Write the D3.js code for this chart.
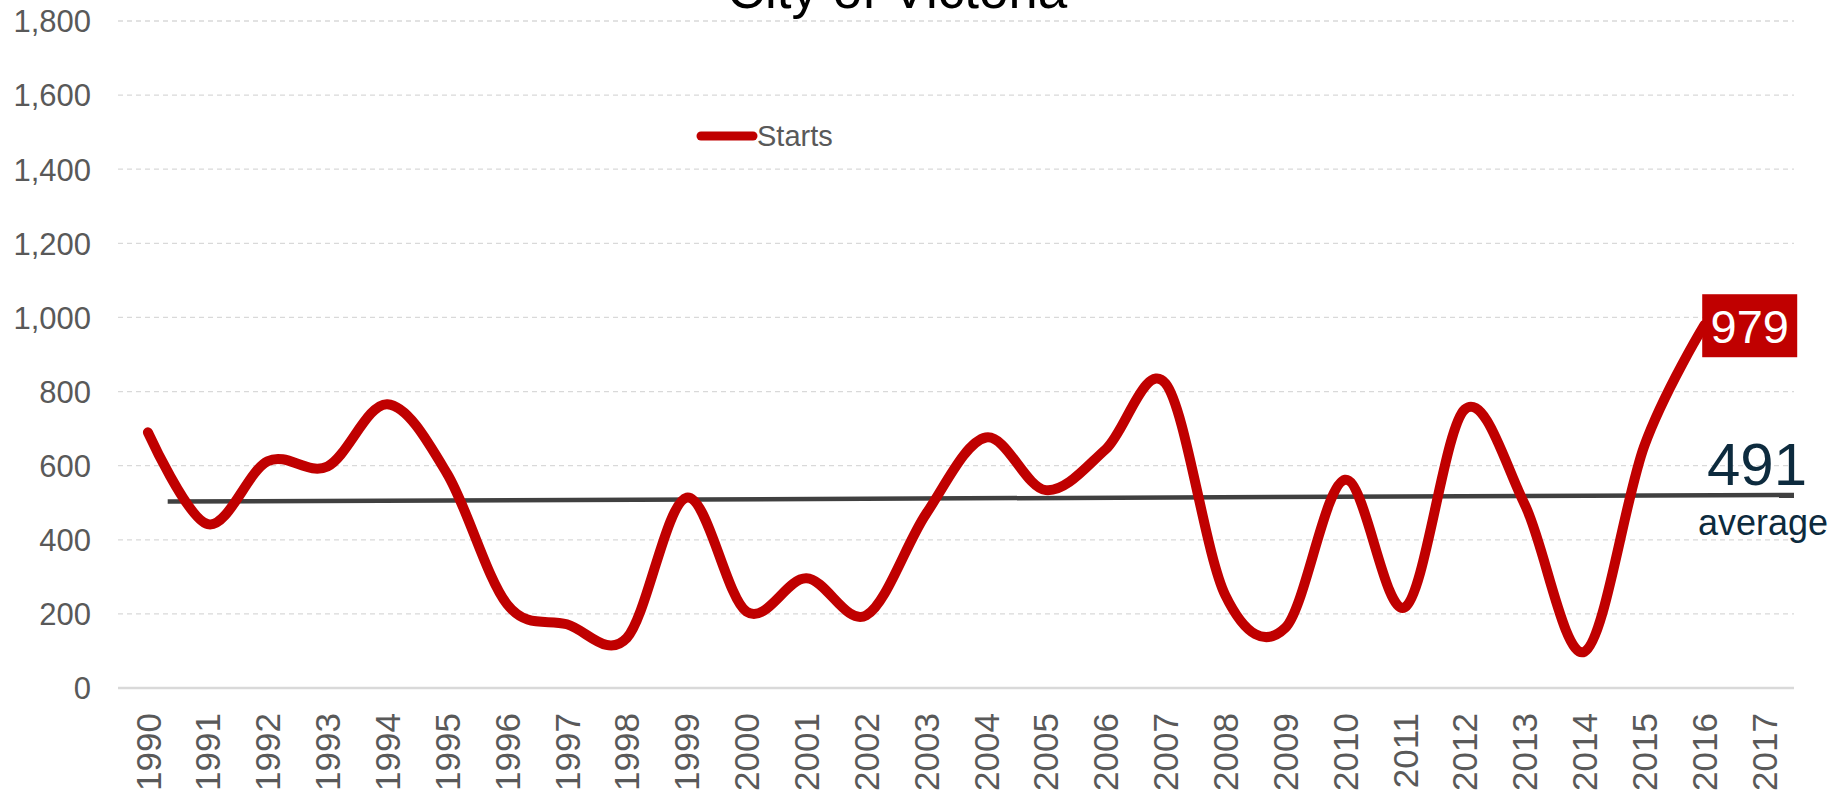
<!DOCTYPE html>
<html>
<head>
<meta charset="utf-8">
<script src="https://cdn.jsdelivr.net/npm/d3@7"></script>
<style>
  html, body { margin: 0; padding: 0; background: #fff; }
  svg { display: block; font-family: "Liberation Sans", Arial, sans-serif; }
</style>
</head>
<body>
<div id="chart"></div>
<script>
// housing starts, City of Victoria
const years = d3.range(1990, 2018);
const starts = [690, 442, 612, 598, 766, 578, 226, 172, 135, 514, 206, 296, 196, 470, 676,
                534, 644, 822, 250, 162, 562, 218, 752, 496, 98, 654, 979, null];
const yTicks = [0, 200, 400, 600, 800, 1000, 1200, 1400, 1600, 1800];
const averageValue = 491;
// linear trend drawn across the chart (start / end)
const trendYears = [1990.33, 2017.5];
const trendValues = [503, 521];

const width = 1839, height = 798;
const plotLeft = 118, plotRight = 1794, plotTop = 21, plotBottom = 688;

const svg = d3.select("#chart").append("svg")
    .attr("width", width)
    .attr("height", height);

const x = d3.scaleLinear()
    .domain([1989.5, 2017.5])
    .range([plotLeft, plotRight]);

const y = d3.scaleLinear()
    .domain([0, 1800])
    .range([plotBottom, plotTop]);

// gridlines
svg.append("g")
    .selectAll("line")
    .data(yTicks.filter(d => d > 0))
    .join("line")
    .attr("x1", plotLeft)
    .attr("x2", plotRight)
    .attr("y1", d => y(d))
    .attr("y2", d => y(d))
    .attr("stroke", "#d9d9d9")
    .attr("stroke-width", 1.3)
    .attr("stroke-dasharray", "5,4");

// zero axis
svg.append("line")
    .attr("x1", plotLeft).attr("x2", plotRight)
    .attr("y1", y(0)).attr("y2", y(0))
    .attr("stroke", "#d9d9d9")
    .attr("stroke-width", 2.6);

// y labels
const yAxis = d3.axisLeft(y)
    .tickValues(yTicks)
    .tickFormat(d3.format(","))
    .tickSize(0)
    .tickPadding(0);

const yG = svg.append("g")
    .attr("transform", "translate(91,0)")
    .call(yAxis);
yG.select(".domain").remove();
yG.selectAll("text")
    .attr("fill", "#595959")
    .style("font-size", "31px")
    .attr("x", 0)
    .attr("dy", "0.35em");

// x labels
svg.append("g")
    .selectAll("text")
    .data(years)
    .join("text")
    .attr("transform", d => "translate(" + x(d) + ",713) rotate(-90)")
    .attr("text-anchor", "end")
    .attr("dy", "0.36em")
    .attr("fill", "#595959")
    .style("font-size", "35px")
    .text(d => d);

// title (mostly clipped above the chart)
svg.append("text")
    .attr("x", 897)
    .attr("y", 8)
    .attr("text-anchor", "middle")
    .attr("fill", "#000")
    .style("font-size", "53px")
    .text("City of Victoria");

// trend / average line
svg.append("line")
    .attr("x1", x(trendYears[0]))
    .attr("x2", x(trendYears[1]))
    .attr("y1", y(trendValues[0]))
    .attr("y2", y(trendValues[1]))
    .attr("stroke", "#404040")
    .attr("stroke-width", 4.5);

// starts line
const points = years.map((yr, i) => ({year: yr, value: starts[i]}))
    .filter(d => d.value != null);

const line = d3.line()
    .x(d => x(d.year))
    .y(d => y(d.value))
    .curve(d3.curveCardinal.tension(0));

svg.append("path")
    .datum(points)
    .attr("d", line)
    .attr("fill", "none")
    .attr("stroke", "#c00000")
    .attr("stroke-width", 10)
    .attr("stroke-linecap", "round")
    .attr("stroke-linejoin", "round");

// last value label
const last = points[points.length - 1];
const lx = x(last.year) - 2, ly = y(last.value);
svg.append("rect")
    .attr("x", lx)
    .attr("y", ly - 31)
    .attr("width", 95)
    .attr("height", 63)
    .attr("fill", "#c00000");
svg.append("text")
    .attr("x", lx + 47.5)
    .attr("y", ly + 18)
    .attr("text-anchor", "middle")
    .attr("fill", "#fff")
    .style("font-size", "47px")
    .text(d3.format(",")(last.value));

// average label
svg.append("text")
    .attr("x", 1807)
    .attr("y", 485)
    .attr("text-anchor", "end")
    .attr("fill", "#0d2b3e")
    .style("font-size", "60px")
    .text(averageValue);
svg.append("text")
    .attr("x", 1828)
    .attr("y", 535)
    .attr("text-anchor", "end")
    .attr("fill", "#0d2b3e")
    .style("font-size", "36px")
    .text("average");

// legend
const legend = svg.append("g").attr("transform", "translate(697,136)");
legend.append("line")
    .attr("x1", 4).attr("x2", 56)
    .attr("stroke", "#c00000")
    .attr("stroke-width", 9)
    .attr("stroke-linecap", "round");
legend.append("text")
    .attr("x", 60)
    .attr("y", 10)
    .attr("fill", "#595959")
    .style("font-size", "29px")
    .text("Starts");
</script>
</body>
</html>
